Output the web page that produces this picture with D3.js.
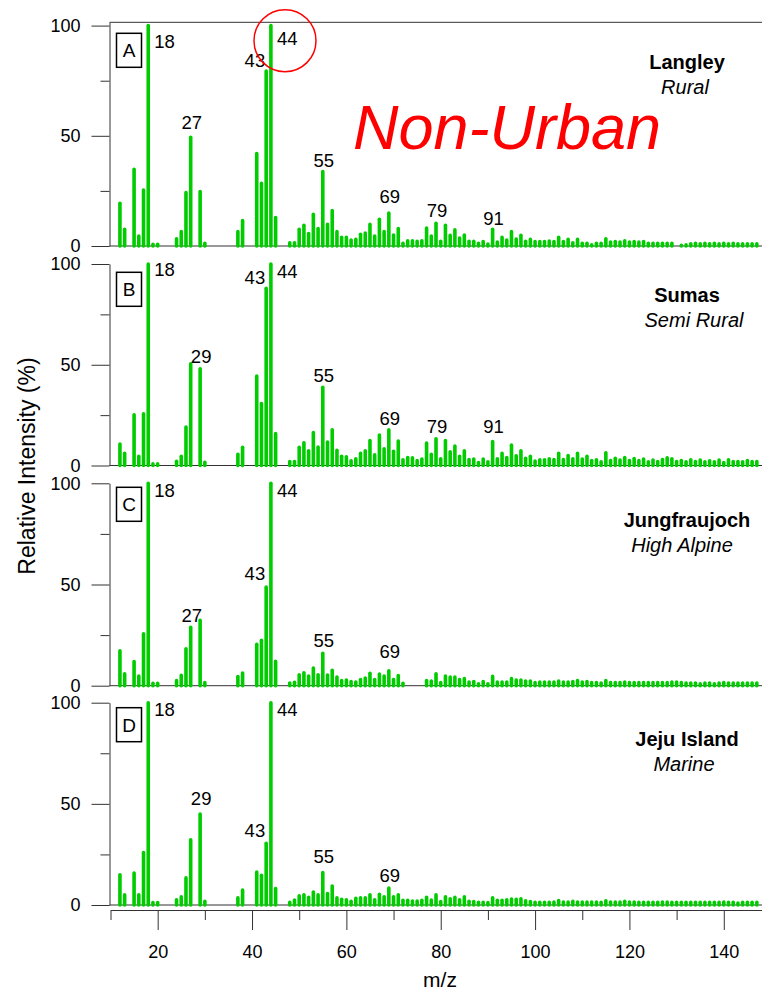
<!DOCTYPE html>
<html lang="en">
  <head>
    <meta charset="utf-8" />
    <script type="text/javascript" src="https://cdn.jsdelivr.net/npm/d3@7"></script>
    <style>
      body { margin: 0; background: #fff; }
      svg text { font-family: "Liberation Sans", Arial, sans-serif; }
    </style>
  </head>

  <body>
    <script type="text/javascript">
      let w = 762;
      let h = 991;

      // m/z channels (rows of ten)
      const mz = [
        12, 13, 14, 15, 16, 17, 18, 19, 20, 21,
        22, 23, 24, 25, 26, 27, 28, 29, 30, 31,
        32, 33, 34, 35, 36, 37, 38, 39, 40, 41,
        42, 43, 44, 45, 46, 47, 48, 49, 50, 51,
        52, 53, 54, 55, 56, 57, 58, 59, 60, 61,
        62, 63, 64, 65, 66, 67, 68, 69, 70, 71,
        72, 73, 74, 75, 76, 77, 78, 79, 80, 81,
        82, 83, 84, 85, 86, 87, 88, 89, 90, 91,
        92, 93, 94, 95, 96, 97, 98, 99, 100, 101,
        102, 103, 104, 105, 106, 107, 108, 109, 110, 111,
        112, 113, 114, 115, 116, 117, 118, 119, 120, 121,
        122, 123, 124, 125, 126, 127, 128, 129, 130, 131,
        132, 133, 134, 135, 136, 137, 138, 139, 140, 141,
        142, 143, 144, 145, 146, 147,
      ];

      // relative intensity (%), null = no signal drawn
      const langley = [
        19.4, 7.6, null, 34.8, 4.5, 25.4, 100, 0.8, 0.8, null,
        null, null, 3.3, 6.5, 24.2, 49.3, null, 24.7, 1.2, null,
        null, null, null, null, null, 6.5, 11.5, null, null, 42,
        28.4, 79.4, 100, 12.9, null, null, 1.5, 1.5, 7.6, 9.4,
        5.7, 14.4, 7.9, 33.8, 9.8, 16.1, 6.5, 3.9, 3.9, 2.7,
        3, 5.3, 5.9, 9.8, 4.5, 12.1, 6.5, 15, 5, 7.9,
        1.2, 2.4, 2.4, 2.1, 2.4, 8.2, 4.5, 10.3, 2.1, 9.4,
        4.8, 7.3, 3.6, 5, 2.1, 2.1, 1.2, 2, 0.9, 7.6,
        1.8, 3.9, 2.7, 6.5, 3.2, 4.9, 2.1, 3, 2, 2,
        2, 2.3, 2, 3.9, 2, 3, 1.5, 3, 1.2, 1.2,
        0.5, 1.2, 1.2, 3.3, 1.8, 2, 1.8, 2.4, 1.8, 2,
        1.8, 2, 1.2, 1.2, 1.2, 1.2, 1.2, 1.2, null, 0.3,
        0.5, 1, 1.2, 1, 1.2, 1, 1.2, 1, 1.2, 1,
        1.2, 1, 1, 1, 1, 1,
      ];
      const sumas = [
        10.7, 6.1, null, 25.2, 4.6, 25.7, 100, 0.8, 0.8, null,
        null, null, 2.1, 4.6, 19.1, 50.5, null, 48, 1.6, null,
        null, null, null, null, null, 5.6, 9, null, null, 44.4,
        30.8, 88, 100, 15.8, null, null, 2, 2, 9, 11.3,
        7.3, 16.3, 9.1, 38.8, 11.6, 17.7, 7.6, 4.6, 4.3, 2.3,
        3.3, 6, 7.3, 12.4, 5.3, 15.1, 8.3, 17.7, 7.1, 12.1,
        2.8, 4, 3.8, 2.5, 3.2, 11.1, 5.6, 13.3, 3.3, 12.4,
        6.8, 9.6, 4.6, 7.3, 3, 3.2, 1.5, 3.2, 1.8, 11.9,
        3.3, 6, 4, 10.1, 4.8, 7.3, 3.6, 4.6, 2.2, 2.8,
        2.8, 3.3, 3, 6.1, 3, 5, 3.3, 6, 3.2, 4.6,
        2.5, 2.8, 1.8, 6.3, 2.5, 3.6, 2.7, 4, 2.5, 3.5,
        2.5, 3.2, 1.8, 2.7, 2, 3, 3.8, 3.3, 2, 2.5,
        1.8, 2.8, 2, 2.7, 1.8, 2.3, 1.8, 2.7, 1.5, 2.8,
        2, 2, 1.8, 2.5, 2, 2,
      ];
      const jungfraujoch = [
        17.2, 5.9, null, 11.9, 4.8, 25.7, 100, 1.2, 1.2, null,
        null, null, 2.5, 5.1, 18.2, 28.9, null, 32.3, 1.5, null,
        null, null, null, null, null, 4.5, 6.3, null, null, 20.5,
        22.4, 48.7, 100, 12, null, null, 1.3, 1.7, 5.4, 6.4,
        4.8, 8.7, 5.4, 16, 5.3, 7.6, 4.3, 2.6, 2.8, 2,
        1.8, 3.1, 3.8, 6.1, 3.1, 5.8, 4.8, 7.4, 3.1, 5,
        1.2, null, null, null, null, 2.6, 2.3, 5.9, 1.5, 4.8,
        4.3, 4.3, 3, 3.5, 1.8, 2.1, 1, 2, 1, 4.6,
        1.8, 1.8, 1.8, 3.5, 2.8, 2.8, 2.3, 2.3, 1.5, 1.8,
        1.8, 1.8, 1.8, 2.3, 1.8, 1.8, 2.1, 2.6, 1.8, 2.1,
        1.5, 1.5, 1.3, 2.5, 1.5, 1.5, 1.5, 1.8, 1.5, 1.5,
        1.5, 1.5, 1.5, 1.5, 1.5, 1.5, 1.5, 1.8, 1.8, 1.5,
        1.3, 1.3, 1.3, 1, 1.3, 1.3, 1, 1.3, 1.5, 1.3,
        1.3, 1.3, 1.3, 1.3, 1.3, 1.3,
      ];
      const jeju = [
        14.9, 5, null, 15.8, 5, 25.9, 100, 1.2, 1.2, null,
        null, null, 2.6, 4, 13.4, 32.2, null, 44.9, 1.8, null,
        null, null, null, null, null, 3.5, 7.4, null, null, 16.3,
        14.7, 30.5, 100, 8.1, null, null, 1.3, 2.5, 4.6, 5.1,
        3.8, 6.4, 5, 16, 5.6, 9.4, 3.6, 2.8, 2.6, 1.8,
        3.3, 3.5, 3.5, 5.1, 2.6, 5.3, 4.1, 8.4, 4.1, 5.1,
        2.3, 2.3, 2, 2, 2.3, 3.8, 2.5, 5, 1.7, 4.1,
        3.1, 3.8, 2.6, 4, 1.8, 1.7, 1.3, 1.3, 1.2, 3.6,
        2.3, 2.3, 2.6, 3, 2.8, 3.1, 2.1, 1.7, 1.3, 1.3,
        1.3, 1.3, 1.5, 2.2, 1.5, 1.5, 1.8, 1.5, 1.5, 1.5,
        1.5, 1.5, 1.3, 2.1, 1.5, 1.5, 1.5, 1.8, 1.5, 1.5,
        1.3, 1.3, 1.3, 1.3, 1.3, 1.5, 1.5, 1.3, 1.3, 1.3,
        1.3, 1.3, 1.3, 1.3, 1.3, 1.3, 1.3, 1.3, 1.5, 1.3,
        1.3, 1, 1.3, 1.3, 1.3, 1.3,
      ];

      // peak labels: [m/z, side, label level in %]
      const peaksA = [[18, "right", 90], [44, "right", 91], [43, "left", 81.4], [27, "mid", 53.2],
        [55, "mid", 36], [69, "mid", 19.5], [79, "mid", 13.3], [91, "mid", 9.5]];
      const peaksB = [[18, "right", 94], [44, "right", 93], [43, "left", 90], [29, "mid", 51],
        [55, "mid", 41.6], [69, "mid", 20], [79, "mid", 16], [91, "mid", 16]];
      const peaksC = [[18, "right", 93.4], [44, "right", 93.4], [43, "left", 52.3], [27, "mid", 31.7],
        [55, "mid", 19.3], [69, "mid", 13.7]];
      const peaksD = [[18, "right", 93.6], [44, "right", 93.6], [43, "left", 33.8], [29, "mid", 49.5],
        [55, "mid", 20.8], [69, "mid", 11.4]];

      const xMajor = [20, 40, 60, 80, 100, 120, 140];
      const xMinor = [10, 30, 50, 70, 90, 110, 130];
      const yMajor = [0, 50, 100];
      const yMinor = [25, 75];

      const green = "#00cc00";
      const axisColor = "#333";
      const font = "'Liberation Sans', Arial, sans-serif";

      let svg = d3
        .select("body")
        .append("svg")
        .attr("width", w)
        .attr("height", h);

      let x = d3.scaleLinear().domain([10, 148.1]).range([110.5, 762]);

      // panel layout
      let panels = [
        { letter: "A", values: langley, peaks: peaksA, site: "Langley", kind: "Rural",
          ymax: 101.5, bottom: 246, top: 22.3, box: 33.3, siteY: 69.3, kindX: 685, frame: true },
        { letter: "B", values: sumas, peaks: peaksB, site: "Sumas", kind: "Semi Rural",
          ymax: 100, bottom: 465.5, top: 264, box: 272.3, siteY: 302, kindX: 694 },
        { letter: "C", values: jungfraujoch, peaks: peaksC, site: "Jungfraujoch", kind: "High Alpine",
          ymax: 100, bottom: 685.7, top: 483.3, box: 487.3, siteY: 527, kindX: 682 },
        { letter: "D", values: jeju, peaks: peaksD, site: "Jeju Island", kind: "Marine",
          ymax: 100, bottom: 905, top: 702.7, box: 707.7, siteY: 746, kindX: 684 },
      ];

      panels.forEach((p) => {
        let y = d3.scaleLinear().domain([0, p.ymax]).range([p.bottom, p.top]);
        let g = svg.append("g");

        // zero line
        g.append("line")
          .attr("x1", 109.5).attr("x2", w)
          .attr("y1", y(0)).attr("y2", y(0))
          .attr("stroke", axisColor);

        if (p.frame) {
          g.append("line")
            .attr("x1", 109.5).attr("x2", w)
            .attr("y1", y(p.ymax)).attr("y2", y(p.ymax))
            .attr("stroke", axisColor);
        }

        // y axis
        let ya = g.append("g")
          .attr("transform", "translate(109.5,0)")
          .call(d3.axisLeft(y).tickValues(yMajor).tickSize(18).tickPadding(11).tickSizeOuter(0));
        ya.select(".domain").attr("stroke", axisColor);
        ya.selectAll(".tick line").attr("stroke", axisColor);
        ya.selectAll("text").attr("font-size", 18).attr("fill", "#000")
          .style("font-family", font);

        let ym = g.append("g")
          .attr("transform", "translate(109.5,0)")
          .call(d3.axisLeft(y).tickValues(yMinor).tickSize(9).tickFormat(""));
        ym.select(".domain").remove();
        ym.selectAll(".tick line").attr("stroke", axisColor);

        // bars
        let pts = mz
          .map((m, i) => ({ m: m, v: p.values[i] }))
          .filter((d) => d.v !== null);

        g.selectAll(".bar")
          .data(pts)
          .join("line")
          .attr("class", "bar")
          .attr("x1", (d) => x(d.m))
          .attr("x2", (d) => x(d.m))
          .attr("y1", y(0))
          .attr("y2", (d) => y(d.v))
          .attr("stroke", green)
          .attr("stroke-width", 3.6)
          .attr("stroke-linecap", "round");

        // peak labels
        g.selectAll(".peak")
          .data(p.peaks)
          .join("text")
          .attr("class", "peak")
          .text((d) => d[0])
          .attr("x", (d) => {
            if (d[1] === "right") return x(d[0]) + 6;
            if (d[1] === "left") return x(d[0]) - 1;
            return x(d[0]) + 1;
          })
          .attr("y", (d) => y(d[2]))
          .attr("text-anchor", (d) => (d[1] === "right" ? "start" : d[1] === "left" ? "end" : "middle"))
          .attr("font-size", 18.5)
          .attr("fill", "#000");

        // boxed letter
        g.append("rect")
          .attr("x", 116.5).attr("y", p.box)
          .attr("width", 25).attr("height", 34)
          .attr("fill", "none")
          .attr("stroke", "#000")
          .attr("stroke-width", 1.5);
        g.append("text")
          .text(p.letter)
          .attr("x", 129).attr("y", p.box + 24)
          .attr("text-anchor", "middle")
          .attr("font-size", 19);

        // site names
        g.append("text")
          .text(p.site)
          .attr("x", 687).attr("y", p.siteY)
          .attr("text-anchor", "middle")
          .attr("font-size", 20)
          .attr("font-weight", "bold");
        g.append("text")
          .text(p.kind)
          .attr("x", p.kindX).attr("y", p.siteY + 25)
          .attr("text-anchor", "middle")
          .attr("font-size", 20)
          .attr("font-style", "italic");
      });

      // bottom axis
      let xa = svg.append("g")
        .attr("transform", "translate(0,910)")
        .call(d3.axisBottom(x).tickValues(xMajor).tickSize(20).tickPadding(15).tickSizeOuter(0));
      xa.select(".domain").attr("stroke", axisColor);
      xa.selectAll(".tick line").attr("stroke", axisColor);
      xa.selectAll("text").attr("font-size", 18).attr("fill", "#000")
        .style("font-family", font);

      let xm = svg.append("g")
        .attr("transform", "translate(0,910)")
        .call(d3.axisBottom(x).tickValues(xMinor).tickSize(10).tickFormat(""));
      xm.select(".domain").remove();
      xm.selectAll(".tick line").attr("stroke", axisColor);

      // axis titles
      svg.append("text")
        .text("m/z")
        .attr("x", 440).attr("y", 987)
        .attr("text-anchor", "middle")
        .attr("font-size", 21);

      svg.append("text")
        .text("Relative Intensity (%)")
        .attr("transform", "translate(35,466) rotate(-90)")
        .attr("text-anchor", "middle")
        .attr("font-size", 23);

      // annotations
      svg.append("text")
        .text("Non-Urban")
        .attr("x", 353).attr("y", 149)
        .attr("font-size", 63)
        .attr("font-style", "italic")
        .attr("fill", "#ff0000");

      svg.append("circle")
        .attr("cx", 285).attr("cy", 40.7).attr("r", 31)
        .attr("fill", "none")
        .attr("stroke", "#ff0000")
        .attr("stroke-width", 1.5);
    </script>
  </body>
</html>
